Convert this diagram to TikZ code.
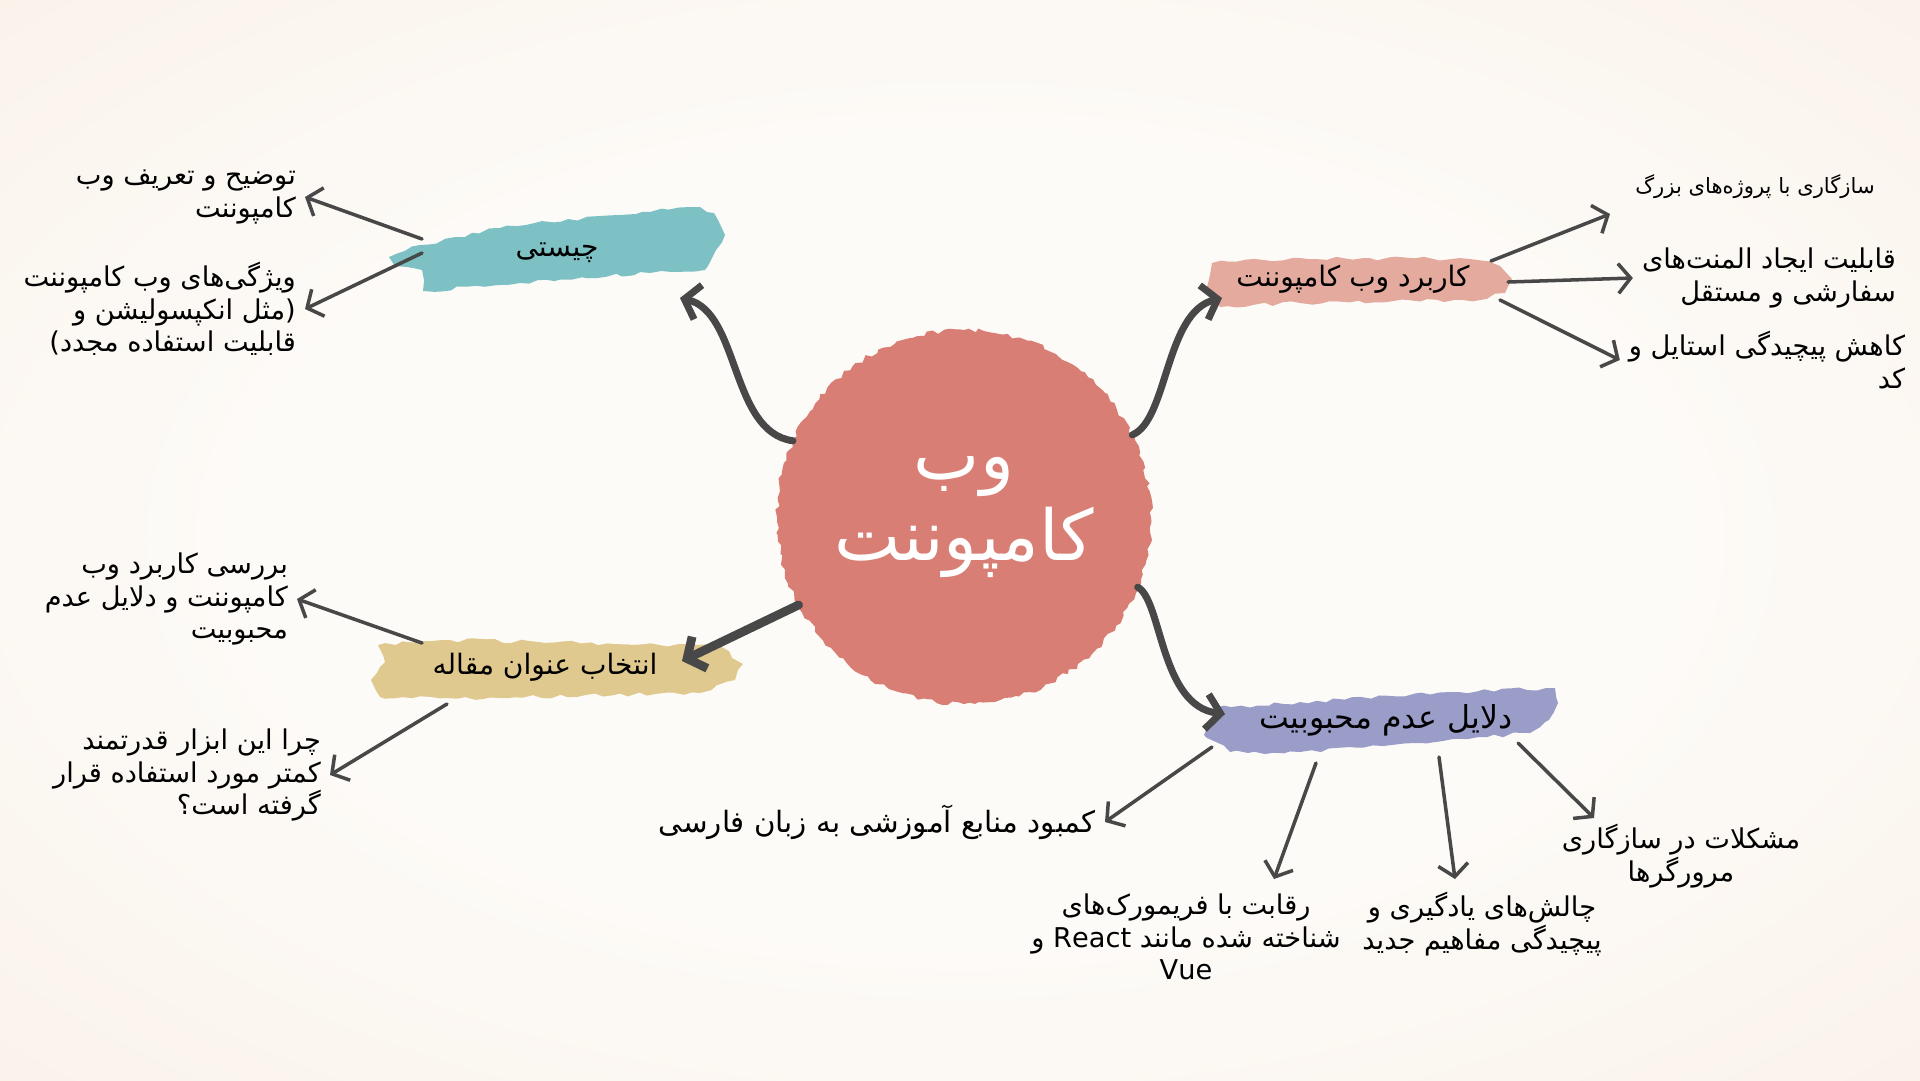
\documentclass[tikz,border=0pt]{standalone}
\usepackage{fontspec}
\TeXXeTstate=1
\newfontfamily\farsi[Script=Arabic]{DejaVu Sans}
\usetikzlibrary{arrows.meta,decorations.pathmorphing}
\definecolor{bgedge}{HTML}{F7ECDF}
\definecolor{bgmid}{HTML}{FDFBF8}
\definecolor{hubred}{HTML}{D97E74}
\definecolor{brushteal}{HTML}{7DC1C5}
\definecolor{brushpink}{HTML}{E3AA9D}
\definecolor{brushtan}{HTML}{DFC98F}
\definecolor{brushlilac}{HTML}{9B9DC9}
\definecolor{ink}{HTML}{484848}
\pgfdeclareradialshading{paper}{\pgfpoint{0bp}{0bp}}{color(0bp)=(bgmid); color(18bp)=(bgmid); color(50bp)=(bgedge)}
\newcommand{\rtlline}[1]{\beginR #1\endR}

\begin{document}
\begin{tikzpicture}[x=0.02cm,y=-0.02cm,
    leaf/.style={font=\farsi\fontsize{15.5}{18.5}\selectfont, align=right, inner sep=5pt},
    topic/.style={font=\farsi\fontsize{16}{20}\selectfont, inner sep=2pt},
    brush/.style={decorate, decoration={random steps, segment length=5pt, amplitude=1.2pt}},
    mainarrow/.style={draw=ink, line width=4pt, line cap=round,
        -{Straight Barb[length=8pt,width=20pt]}},
    leafarrow/.style={draw=ink, line width=2pt, line cap=round,
        -{Straight Barb[length=7pt,width=17pt]}}]
    \pgfmathsetseed{7}
    \useasboundingbox (0,0) rectangle (1920,1080);
    \shade[shading=paper] (0,0) rectangle (1920,1080);

    % brush strokes
    \fill[hubred, brush, decoration={segment length=3pt, amplitude=1.3pt}] (964,517) circle (187);
    \fill[brushteal, brush] (389,257) -- (420,245) -- (500,228) -- (600,216) -- (700,207) -- (714,213)
        -- (725,235) -- (716,250) -- (705,270) -- (650,273) -- (520,283) -- (423,291) -- (422,270) -- (395,266) -- cycle;
    \fill[brushpink, brush] (1212,263) -- (1300,258) -- (1470,259) -- (1500,266) -- (1512,279) -- (1505,293)
        -- (1480,300) -- (1300,303) -- (1220,307) -- (1206,290) -- cycle;
    \fill[brushtan, brush] (378,645) -- (450,640) -- (720,646) -- (743,664) -- (735,680) -- (700,693)
        -- (500,698) -- (380,697) -- (371,680) -- (385,662) -- cycle;
    \fill[brushlilac, brush] (1215,708) -- (1300,702) -- (1450,692) -- (1555,688) -- (1558,703) -- (1545,722)
        -- (1530,733) -- (1400,744) -- (1300,752) -- (1230,752) -- (1204,735) -- (1212,720) -- cycle;

    % hub and topics
    \node[circle, minimum size=7.48cm, inner sep=0, text=white, align=center,
        font=\farsi\fontsize{40}{46}\selectfont] (hub) at (964,517) {\rtlline{وب}\\\rtlline{کامپوننت}};
    \node[topic] (whatis) at (557,253) {\rtlline{چیستی}};
    \node[topic] (usage) at (1353,279) {\rtlline{کاربرد وب کامپوننت}};
    \node[topic] (title) at (545,667) {\rtlline{انتخاب عنوان مقاله}};
    \node[topic, font=\farsi\fontsize{18}{22}\selectfont] (reasons) at (1386,720) {\rtlline{دلایل عدم محبوبیت}};

    % leaves
    \node[leaf, anchor=east] (define) at (305,197) {\rtlline{توضیح و تعریف وب}\\\rtlline{کامپوننت}};
    \node[leaf, anchor=east] (features) at (305,309) {\rtlline{ویژگی^^^^200cهای وب کامپوننت}\\\rtlline{(مثل انکپسولیشن و}\\\rtlline{قابلیت استفاده مجدد)}};
    \node[leaf, font=\farsi\fontsize{12}{15}\selectfont] (bigproj) at (1755,187) {\rtlline{سازگاری با پروژه^^^^200cهای بزرگ}};
    \node[leaf, anchor=east] (custom) at (1905,278) {\rtlline{قابلیت ایجاد المنت^^^^200cهای}\\\rtlline{سفارشی و مستقل}};
    \node[leaf] (styling) at (1767,360) {\rtlline{کاهش پیچیدگی استایل و}\\\rtlline{کد}};
    \node[leaf, anchor=east] (review) at (297,599) {\rtlline{بررسی کاربرد وب}\\\rtlline{کامپوننت و دلایل عدم}\\\rtlline{محبوبیت}};
    \node[leaf, anchor=east] (why) at (330,775) {\rtlline{چرا این ابزار قدرتمند}\\\rtlline{کمتر مورد استفاده قرار}\\\rtlline{گرفته است؟}};
    \node[leaf, anchor=east, font=\farsi\fontsize{16.7}{20}\selectfont] (lack) at (1105,822) {\rtlline{کمبود منابع آموزشی به زبان فارسی}};
    \node[leaf, align=center] (rivals) at (1186,937) {\rtlline{رقابت با فریمورک^^^^200cهای}\\\rtlline{شناخته شده مانند \beginL React\endL{} و}\\Vue};
    \node[leaf, align=center] (learning) at (1482,924) {\rtlline{چالش^^^^200cهای یادگیری و}\\\rtlline{پیچیدگی مفاهیم جدید}};
    \node[leaf, align=center] (browsers) at (1681,856) {\rtlline{مشکلات در سازگاری}\\\rtlline{مرورگرها}};

    % arrow ends
    \coordinate (whatisin) at (680,298);
    \coordinate (usagein) at (1222,298);
    \coordinate (titlein) at (682,661);
    \coordinate (reasonsin) at (1225,714);
    \coordinate (w1) at (422,239); \coordinate (w2) at (422,253);
    \coordinate (u1) at (1491,261); \coordinate (u2) at (1508,282); \coordinate (u3) at (1500,300);
    \coordinate (t1) at (422,643); \coordinate (t2) at (447,704);
    \coordinate (r1) at (1212,747); \coordinate (r2) at (1316,763); \coordinate (r3) at (1439,757); \coordinate (r4) at (1518,743);
    \coordinate (bigtip) at (1610,214);
    \coordinate (rivaltip) at (1274,879);
    \coordinate (learntip) at (1455,879);
    \coordinate (browsertip) at (1594,818);

    % hub to topics
    \draw[mainarrow] (hub.156) .. controls (730,432) and (740,312) .. (whatisin);
    \draw[mainarrow] (hub.26) .. controls (1168,420) and (1165,312) .. (usagein);
    \draw[mainarrow, line width=5pt] (hub.208) -- (titlein);
    \draw[mainarrow] (hub.338) .. controls (1162,600) and (1160,706) .. (reasonsin);

    % topics to leaves
    \draw[leafarrow] (w1) -- (define.east);
    \draw[leafarrow] (w2) -- (features.east);
    \draw[leafarrow] (u1) -- (bigtip);
    \draw[leafarrow] (u2) -- (custom.west);
    \draw[leafarrow] (u3) -- (styling.west);
    \draw[leafarrow] (t1) -- (review.east);
    \draw[leafarrow] (t2) -- (why.east);
    \draw[leafarrow] (r1) -- (lack.east);
    \draw[leafarrow] (r2) -- (rivaltip);
    \draw[leafarrow] (r3) -- (learntip);
    \draw[leafarrow] (r4) -- (browsertip);
\end{tikzpicture}
\end{document}
